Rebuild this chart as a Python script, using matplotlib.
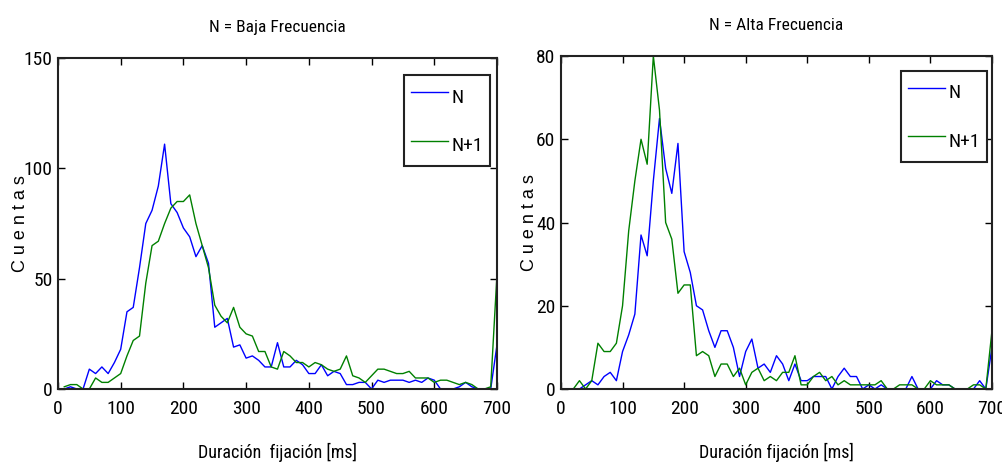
import numpy as np
import matplotlib
matplotlib.use("Agg")
import matplotlib.pyplot as plt
from matplotlib import font_manager

# Baja frecuencia (left), bins of 10 ms from 10 to 700
x_baja = np.arange(10, 701, 10)
n_baja = [0, 1, 0, 0, 9, 7, 10, 7, 12, 18,
          35, 37, 55, 75, 81, 92, 111, 84, 80, 73,
          69, 60, 65, 57, 28, 30, 32, 19, 20, 14,
          15, 13, 10, 10, 21, 10, 10, 13, 11, 7,
          7, 11, 6, 8, 7, 2, 2, 3, 3, 0,
          4, 3, 4, 4, 4, 3, 4, 3, 5, 4,
          0, 0, 0, 1, 3, 1, 0, 0, 0, 20]
n1_baja = [1, 2, 2, 0, 0, 5, 3, 3, 5, 7,
           15, 22, 24, 48, 65, 67, 75, 82, 85, 85,
           88, 75, 65, 55, 38, 33, 30, 37, 28, 25,
           24, 17, 17, 10, 9, 17, 15, 12, 12, 10,
           12, 11, 9, 8, 9, 15, 6, 5, 3, 6,
           9, 9, 8, 7, 7, 8, 5, 5, 5, 3,
           4, 4, 3, 2, 3, 2, 0, 0, 1, 52]

# Alta frecuencia (right), bins of 10 ms from 20 to 700
x_alta = np.arange(20, 701, 10)
n_alta = [0, 0, 1, 2, 1, 3, 4, 2, 9,
          13, 18, 37, 32, 50, 65, 53, 47, 59, 33,
          28, 20, 19, 14, 10, 14, 14, 10, 3, 9,
          12, 5, 6, 4, 8, 6, 2, 6, 2, 2,
          3, 3, 3, 0, 3, 5, 3, 3, 0, 1,
          0, 1, 0, 0, 0, 0, 3, 0, 0, 0,
          2, 1, 1, 0, 0, 0, 0, 2, 0, 10]
n1_alta = [0, 2, 0, 2, 11, 9, 9, 11, 20,
           38, 50, 60, 54, 80, 67, 40, 36, 23, 25,
           25, 8, 9, 8, 3, 6, 6, 3, 5, 1,
           4, 5, 2, 3, 2, 4, 4, 8, 1, 1,
           3, 4, 2, 3, 1, 2, 1, 1, 1, 1,
           1, 2, 0, 0, 1, 1, 1, 0, 0, 2,
           1, 1, 1, 0, 0, 0, 1, 1, 0, 14]

titles = ["N = Baja Frecuencia", "N = Alta Frecuencia"]
xlabels = ["Duración  fijación [ms]", "Duración fijación [ms]"]

# pick a narrow family if one is installed
names = {f.name for f in font_manager.fontManager.ttflist}
narrow = [f for f in ["Liberation Sans Narrow", "DejaVu Sans Condensed",
                      "Roboto Condensed", "Open Sans Condensed",
                      "Noto Sans Condensed"] if f in names] + ["Liberation Sans", "DejaVu Sans"]
wide = ["Liberation Sans", "DejaVu Sans"]

fig = plt.figure(figsize=(10.03, 4.68), dpi=100)
ax1 = fig.add_axes([0.0578, 0.1688, 0.4377, 0.707])
ax2 = fig.add_axes([0.5593, 0.1688, 0.4297, 0.7115])

setups = [
    (ax1, x_baja, n_baja, n1_baja, 150, [0, 50, 100, 150], (0.984, 0.948), -0.067),
    (ax2, x_alta, n_alta, n1_alta, 80, [0, 20, 40, 60, 80], (0.988, 0.955), -0.053),
]

for i, (ax, x, n, n1, ymax, yt, anchor, ylx) in enumerate(setups):
    ax.plot(x, n, color="#0000ff", lw=1.0, label="N")
    ax.plot(x, n1, color="#008000", lw=1.0, label="N+1")
    ax.set_xlim(0, 700)
    ax.set_ylim(0, ymax)
    ax.set_xticks(range(0, 701, 100))
    ax.set_yticks(yt)
    ax.tick_params(direction="in", top=True, right=True, length=5, width=1,
                   labelsize=14)
    ax.tick_params(axis="x", pad=8)
    ax.tick_params(axis="y", pad=4)
    for lab in ax.get_xticklabels() + ax.get_yticklabels():
        lab.set_family(narrow)
    for s in ax.spines.values():
        s.set_linewidth(1.5)
        s.set_color("#222222")
    ax.set_title(titles[i], family=narrow, fontsize=12.5, pad=19)
    ax.set_xlabel(xlabels[i], family=narrow, fontsize=13, labelpad=18)
    ax.set_ylabel("C u e n t a s", family=wide, fontsize=13)
    ax.yaxis.set_label_coords(ylx, 0.5)
    leg = ax.legend(loc="upper right", bbox_to_anchor=anchor, fancybox=False,
                    prop={"family": narrow, "size": 14}, handlelength=1.9,
                    handleheight=1.9, borderpad=0.35, labelspacing=1.0,
                    handletextpad=0.2, borderaxespad=0.0,
                    edgecolor="#222222", framealpha=1)
    leg.get_frame().set_linewidth(1.5)

fig.savefig("out.png", dpi=100)
